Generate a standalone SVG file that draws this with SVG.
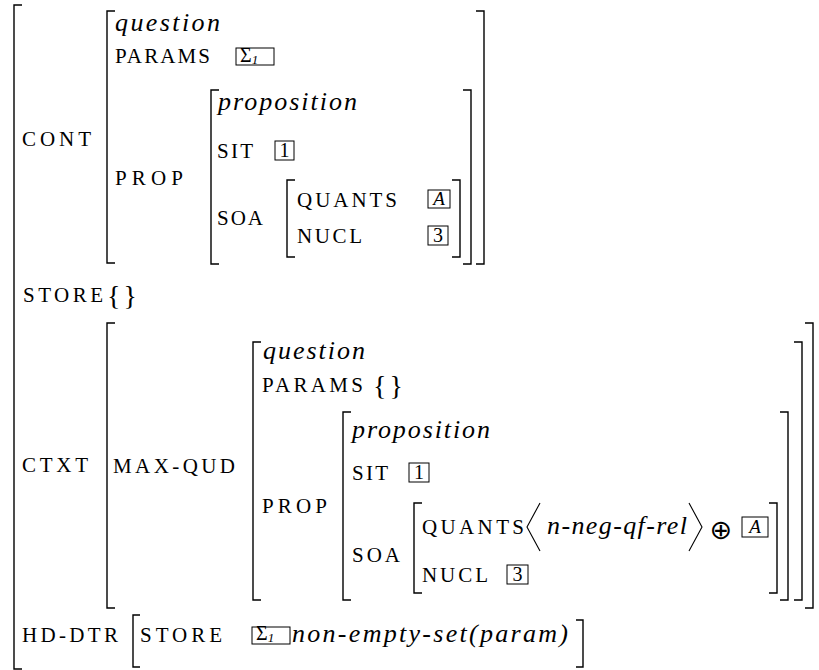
<svg xmlns="http://www.w3.org/2000/svg" width="819" height="670" viewBox="0 0 819 670">
<style>
.b{fill:none;stroke:#000;stroke-width:1.4}
.bx{fill:none;stroke:#000;stroke-width:1}
text{font-family:"Liberation Serif","Times New Roman",Times,"DejaVu Serif",Georgia,serif;fill:#000}
.sc{font-size:21px}
.it{font-style:italic;font-size:26px}
.rm{font-size:20px}
.sub{font-style:italic;font-size:13px}
.op{font-size:27px}
</style>
<rect width="819" height="670" fill="#fff"/>

<g id="outer">
<path class="b" d="M22 5H14V669H22"/>
</g>

<g id="cont">
<text class="sc" x="22" y="146" textLength="69">CONT</text>
<path class="b" d="M115 11H107V263H115"/>
<path class="b" d="M476 11H484V264H476"/>
<text class="it" x="115" y="31" textLength="105">question</text>
<text class="sc" x="115" y="63" textLength="95">PARAMS</text>
<rect class="bx" x="236" y="48" width="38" height="17"/>
<text class="rm" x="240" y="62">Σ<tspan class="sub" dy="2">1</tspan></text>
<text class="sc" x="115" y="185" textLength="68">PROP</text>
<path class="b" d="M219 90H211V264H219"/>
<path class="b" d="M463 90H471V264H463"/>
<text class="it" x="218" y="110" textLength="139">proposition</text>
<text class="sc" x="217" y="158" textLength="36">SIT</text>
<rect class="bx" x="275" y="141" width="19" height="19"/>
<text class="rm" x="284.5" y="157" text-anchor="middle">1</text>
<text class="sc" x="217" y="225" textLength="46">SOA</text>
<path class="b" d="M295 180H287V257H295"/>
<path class="b" d="M452 180H460V257H452"/>
<text class="sc" x="297" y="207" textLength="100">QUANTS</text>
<rect class="bx" x="428" y="190" width="22" height="18"/>
<text class="it" x="439" y="205" text-anchor="middle" style="font-size:19px">A</text>
<text class="sc" x="297" y="243" textLength="65">NUCL</text>
<rect class="bx" x="428" y="226" width="20" height="19"/>
<text class="rm" x="438" y="242" text-anchor="middle">3</text>
</g>

<g id="store">
<text class="sc" x="23" y="302" textLength="80">STORE</text>
<text class="rm" x="107" y="305" style="font-size:28px" textLength="30">{}</text>
</g>

<g id="ctxt">
<text class="sc" x="22" y="472" textLength="66">CTXT</text>
<path class="b" d="M115 323H107V608H115"/>
<path class="b" d="M805 323H813V608H805"/>
<text class="sc" x="113" y="473" textLength="122">MAX-QUD</text>
<path class="b" d="M261 342H253V600H261"/>
<path class="b" d="M794 342H802V600H794"/>
<text class="it" x="263" y="359" textLength="102">question</text>
<text class="sc" x="262" y="392" textLength="101">PARAMS</text>
<text class="rm" x="373" y="395" style="font-size:28px" textLength="30">{}</text>
<text class="sc" x="262" y="513" textLength="65">PROP</text>
<path class="b" d="M351 412H343V600H351"/>
<path class="b" d="M780 412H788V600H780"/>
<text class="it" x="352" y="438" textLength="138">proposition</text>
<text class="sc" x="352" y="480" textLength="36">SIT</text>
<rect class="bx" x="409" y="463" width="20" height="19"/>
<text class="rm" x="419" y="479" text-anchor="middle">1</text>
<text class="sc" x="352" y="562" textLength="48">SOA</text>
<path class="b" d="M422 503H414V593H422"/>
<path class="b" d="M769 503H777V593H769"/>
<text class="sc" x="422" y="534" textLength="102">QUANTS</text>
<polyline class="b" points="540,503 527,527 540,551" style="stroke-width:1.1"/>
<text class="it" x="547" y="534" textLength="140">n-neg-qf-rel</text>
<polyline class="b" points="689,503 702,527 689,551" style="stroke-width:1.1"/>
<text class="op" x="721" y="539" text-anchor="middle" style="font-family:'DejaVu Sans',sans-serif">⊕</text>
<rect class="bx" x="742" y="517" width="26" height="20"/>
<text class="it" x="755" y="533" text-anchor="middle" style="font-size:19px">A</text>
<text class="sc" x="422" y="582" textLength="66">NUCL</text>
<rect class="bx" x="507" y="565" width="21" height="19"/>
<text class="rm" x="517.5" y="581" text-anchor="middle">3</text>
</g>

<g id="hd-dtr">
<text class="sc" x="22" y="642" textLength="96">HD-DTR</text>
<path class="b" d="M140 615H133V667H140"/>
<text class="sc" x="140" y="642" textLength="82">STORE</text>
<rect class="bx" x="252" y="627" width="38" height="17"/>
<text class="rm" x="256" y="640">Σ<tspan class="sub" dy="2">1</tspan></text>
<text class="it" x="292" y="642" textLength="276">non-empty-set(param)</text>
<path class="b" d="M576 620H583V667H576"/>
</g>
</svg>
